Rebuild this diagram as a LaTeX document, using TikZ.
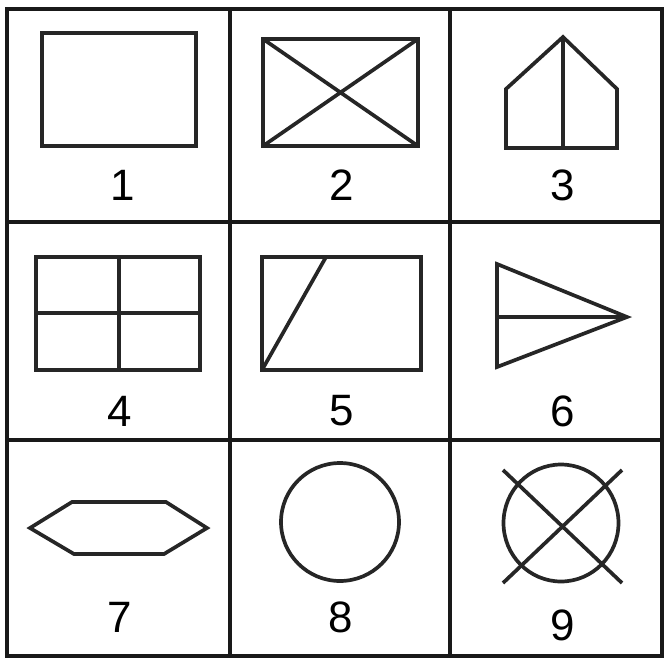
\documentclass[tikz,border=0pt]{standalone}
\usepackage{fontspec}
\setmainfont{Liberation Sans}
\begin{document}
\begin{tikzpicture}[x=0.02cm,y=-0.02cm,line join=miter,
  grid/.style={line width=2.4pt,draw=black!90},
  fig/.style={line width=2.1pt,draw=black!85},
  num/.style={inner sep=0pt,font=\fontsize{25}{30}\selectfont}]
\useasboundingbox (0,0) rectangle (666,660);
% frame and cells
\draw[grid] (7,9) rectangle (662,656);
\draw[grid] (230,9) -- (230,656);
\draw[grid] (450,9) -- (450,656);
\draw[grid] (7,222) -- (662,222);
\draw[grid] (7,440) -- (662,440);
% row 1
\draw[fig] (42,33) rectangle (196,146);
\draw[fig] (263,39) rectangle (418,146);
\draw[fig] (263,39) -- (418,146) (418,39) -- (263,146);
\draw[fig] (506,148) -- (506,89) -- (563,37) -- (617,89) -- (617,148) -- cycle;
\draw[fig] (563,37) -- (563,148);
\node[num] (lbl1) at (123,185) {1};
\node[num] (lbl2) at (342,185) {2};
\node[num] (lbl3) at (563,185) {3};
% row 2
\draw[fig] (36,257) rectangle (200,370);
\draw[fig] (119,257) -- (119,370) (36,313) -- (200,313);
\draw[fig] (262,257) rectangle (421,370);
\draw[fig] (262,370) -- (326,257);
\draw[fig] (497,264) -- (627,317) -- (497,367) -- cycle;
\draw[fig] (497,317) -- (627,317);
\node[num] (lbl4) at (120,411) {4};
\node[num] (lbl5) at (342,411) {5};
\node[num] (lbl6) at (563,411) {6};
% row 3
\draw[fig] (30,528) -- (72,502) -- (166,502) -- (207,528) -- (164,554) -- (74,554) -- cycle;
\draw[fig] (340,522) circle [x radius=1.18cm,y radius=1.18cm];
\draw[fig] (561,523) circle [x radius=1.15cm,y radius=1.17cm];
\draw[fig] (503,470) -- (622,583) (622,470) -- (503,583);
\node[num] (lbl7) at (120,617) {7};
\node[num] (lbl8) at (341,617) {8};
\node[num] (lbl9) at (563,625) {9};
\end{tikzpicture}
\end{document}
